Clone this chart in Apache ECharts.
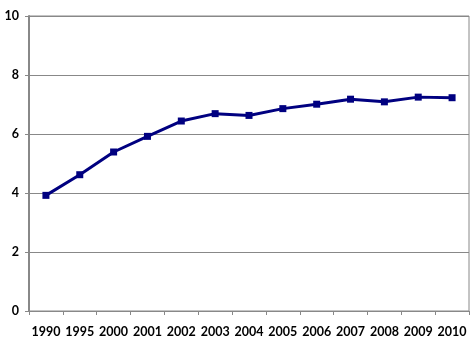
<!DOCTYPE html>
<html>
<head>
<meta charset="utf-8">
<script src="https://cdn.jsdelivr.net/npm/echarts@6/dist/echarts.min.js"></script>
<style>
    html, body { margin: 0; padding: 0; background: #fff; }
    #chart { width: 475px; height: 347px; }
</style>
</head>
<body>
<div id="chart"></div>
<script>
    // data
    const years = ['1990', '1995', '2000', '2001', '2002', '2003', '2004', '2005', '2006', '2007', '2008', '2009', '2010'];
    const values = [3.92, 4.62, 5.39, 5.92, 6.44, 6.69, 6.63, 6.86, 7.01, 7.18, 7.09, 7.25, 7.23];
    const yTicks = [0, 2, 4, 6, 8, 10];

    const chart = echarts.init(document.getElementById('chart'));
    const labelFont = {
        color: '#000',
        fontWeight: 'bold',
        fontSize: 12.5,
        fontFamily: 'Lato'
    };
    chart.setOption({
        animation: false,
        grid: {
            left: 29,
            right: 6,
            top: 16,
            bottom: 36,
            show: true,
            borderColor: '#888',
            borderWidth: 1
        },
        xAxis: {
            type: 'category',
            data: years,
            boundaryGap: true,
            axisLine: { lineStyle: { color: '#888', width: 1 } },
            axisTick: { show: true, alignWithLabel: false, length: 4, lineStyle: { color: '#888' } },
            axisLabel: Object.assign({ margin: 14, interval: 0 }, labelFont),
            splitLine: { show: false }
        },
        yAxis: {
            type: 'value',
            min: yTicks[0],
            max: yTicks[yTicks.length - 1],
            interval: 2,
            axisLine: { show: true, lineStyle: { color: '#888', width: 2 } },
            axisTick: { show: true, length: 4, lineStyle: { color: '#888' } },
            axisLabel: Object.assign({ margin: 10 }, labelFont),
            splitLine: { show: true, lineStyle: { color: '#888', width: 1 } }
        },
        series: [{
            type: 'line',
            data: values,
            symbol: 'rect',
            symbolSize: 7,
            lineStyle: { color: '#000080', width: 3 },
            itemStyle: { color: '#000080' }
        }]
    });
</script>
</body>
</html>
